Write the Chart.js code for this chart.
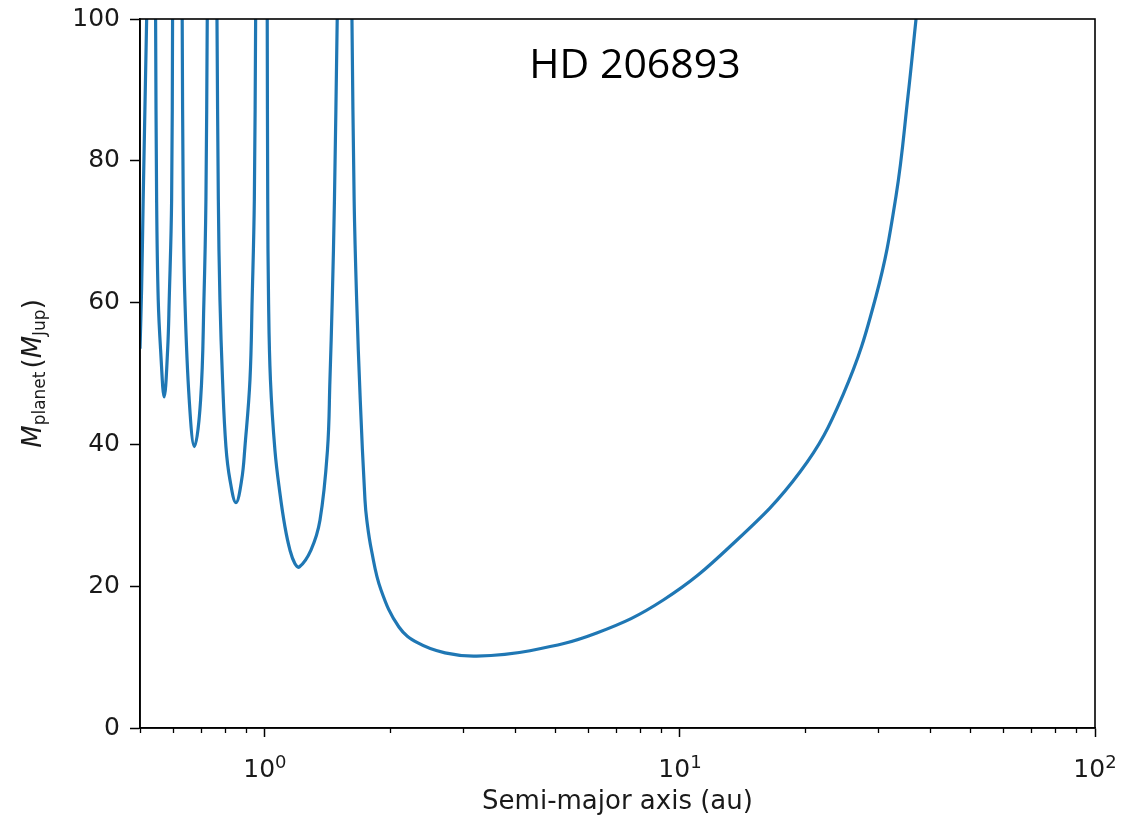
<!DOCTYPE html>
<html>
<head>
<meta charset="utf-8">
<script src="https://cdn.jsdelivr.net/npm/chart.js@4.4.1/dist/chart.umd.min.js"></script>
<style>
  html, body { margin: 0; padding: 0; background: #fff; }
  canvas { display: block; }
</style>
</head>
<body>
<canvas id="chart" width="1142" height="820"></canvas>
<script>
// semi-major axis (au) and the mass limit (M_Jup),
// null marks the resonance spikes where the curve leaves the top of the frame
const semiMajorAxis = [
  0.500, 0.5045, 0.5089, 0.5188,
  0.532,
  0.5452, 0.5483, 0.5532, 0.5606, 0.5718, 0.5828, 0.5880, 0.5959, 0.5990,
  0.615,
  0.6319, 0.6355, 0.6415, 0.6570, 0.6762, 0.6999, 0.7129, 0.7208, 0.7261,
  0.746,
  0.7664, 0.7722, 0.7791, 0.7904, 0.8054, 0.8236, 0.8514, 0.8789, 0.8951, 0.9203, 0.9315, 0.9429, 0.9497,
  0.981,
  1.0128, 1.0156, 1.0202, 1.0310, 1.0570, 1.0867, 1.1173, 1.1489, 1.1805, 1.2097,
  1.2909, 1.3570, 1.4147, 1.4343, 1.4528, 1.4706, 1.4933,
  1.55,
  1.6205, 1.6403, 1.6634, 1.6968, 1.7418, 1.7600, 1.8055, 1.9032, 2.1030, 2.3370, 2.7157, 3.2362,
  4.3512, 6.3012, 9.1170, 13.199, 19.46, 24.71, 29.67, 33.15, 35.43, 37.05
];
const planetMass = [
  53.5, 62, 74.5, 100,
  null,
  100, 74.5, 60.4, 53.3, 46.7, 53.3, 60.4, 74.5, 100,
  null,
  100, 74.5, 60.4, 46.3, 39.7, 46.3, 60.4, 74.5, 100,
  null,
  100, 74.5, 60.4, 49.1, 39.7, 35.0, 31.8, 35.0, 39.7, 49.1, 60.4, 74.5, 100,
  null,
  100, 74.5, 60.4, 49.1, 39.2, 33.1, 28.4, 25.1, 23.2, 22.7,
  25.1, 29.3, 39.2, 49.1, 60.4, 74.5, 100,
  null,
  100, 74.5, 60.4, 46.3, 32.2, 29.3, 25.1, 19.5, 14.25, 12.0, 10.6, 10.15,
  10.9, 13.4, 18.05, 25.6, 36.1, 47.0, 60.9, 75.0, 89.1, 100
];

const xMajorTicks = [1, 10, 100];
const xMajorBase = '10';
const xMajorExponents = ['0', '1', '2'];
const xMinorTicks = [0.5, 0.6, 0.7, 0.8, 0.9, 2, 3, 4, 5, 6, 7, 8, 9, 20, 30, 40, 50, 60, 70, 80, 90];
const yTicks = [0, 20, 40, 60, 80, 100];
const starName = 'HD 206893';

const points = semiMajorAxis.map((a, i) => ({ x: a, y: planetMass[i] }));

const ink = '#1a1a1a';
const tickFont = { family: '"DejaVu Sans"', size: 25 };

// frame, minor ticks, power-of-ten labels, y label with subscripts, star name
const extras = {
  id: 'extras',
  afterDraw(chart) {
    const { ctx, chartArea: area, scales } = chart;
    ctx.save();
    ctx.strokeStyle = '#000';
    ctx.lineWidth = 1.6;
    ctx.strokeRect(area.left, area.top, area.right - area.left, area.bottom - area.top);

    ctx.lineWidth = 1.3;
    ctx.beginPath();
    xMinorTicks.forEach(v => {
      const px = Math.round(scales.x.getPixelForValue(v)) + 0.5;
      ctx.moveTo(px, area.bottom);
      ctx.lineTo(px, area.bottom + 5);
    });
    ctx.stroke();

    // 10^n tick labels
    ctx.fillStyle = ink;
    ctx.textBaseline = 'alphabetic';
    ctx.textAlign = 'left';
    xMajorTicks.forEach((v, i) => {
      ctx.font = '25px "DejaVu Sans"';
      const wb = ctx.measureText(xMajorBase).width;
      ctx.font = '18px "DejaVu Sans"';
      const we = ctx.measureText(xMajorExponents[i]).width;
      const x0 = scales.x.getPixelForValue(v) - (wb + we) / 2;
      const base = area.bottom + 49;
      ctx.font = '25px "DejaVu Sans"';
      ctx.fillText(xMajorBase, x0, base);
      ctx.font = '18px "DejaVu Sans"';
      ctx.fillText(xMajorExponents[i], x0 + wb, base - 9);
    });
    ctx.restore();

    // y axis title: M_planet (M_Jup)
    ctx.save();
    const parts = [
      { t: 'M', font: 'italic 26px "DejaVu Sans"', dy: 0 },
      { t: 'planet', font: '17px "DejaVu Sans"', dy: 4 },
      { t: '(', font: '26px "DejaVu Sans"', dy: 0, gap: 3 },
      { t: 'M', font: 'italic 26px "DejaVu Sans"', dy: 0 },
      { t: 'Jup', font: '17px "DejaVu Sans"', dy: 4 },
      { t: ')', font: '26px "DejaVu Sans"', dy: 0 }
    ];
    let total = 0;
    parts.forEach(p => { ctx.font = p.font; p.w = ctx.measureText(p.t).width; total += p.w + (p.gap || 0); });
    ctx.translate(41, (area.top + area.bottom) / 2);
    ctx.rotate(-Math.PI / 2);
    ctx.fillStyle = ink;
    ctx.textBaseline = 'alphabetic';
    ctx.textAlign = 'left';
    let cx = -total / 2;
    parts.forEach(p => {
      cx += p.gap || 0;
      ctx.font = p.font;
      ctx.fillText(p.t, cx, p.dy);
      cx += p.w;
    });
    ctx.restore();

    ctx.save();
    ctx.fillStyle = '#000';
    ctx.font = '41px "Open Sans"';
    ctx.textAlign = 'center';
    ctx.textBaseline = 'alphabetic';
    ctx.fillText(starName, scales.x.getPixelForValue(7.79), scales.y.getPixelForValue(91.7));
    ctx.restore();
  }
};

new Chart(document.getElementById('chart'), {
  type: 'line',
  data: {
    datasets: [{
      data: points,
      borderColor: '#1f77b4',
      borderWidth: 3.2,
      pointRadius: 0,
      fill: false,
      spanGaps: false,
      tension: 0.4
    }]
  },
  options: {
    responsive: false,
    animation: false,
    layout: { padding: { left: 0, top: 19, right: 47, bottom: 0 } },
    plugins: { legend: { display: false }, tooltip: { enabled: false } },
    scales: {
      x: {
        type: 'logarithmic',
        min: 0.5,
        max: 100,
        afterBuildTicks: scale => { scale.ticks = xMajorTicks.map(v => ({ value: v })); },
        afterFit: scale => { scale.height = 92; },
        border: { color: '#000', width: 1.6 },
        grid: { drawOnChartArea: false, tickLength: 9, tickColor: '#000', tickWidth: 1.5 },
        ticks: { display: false },
        title: {
          display: true,
          text: 'Semi-major axis (au)',
          color: ink,
          font: { family: '"DejaVu Sans"', size: 26 },
          padding: { top: 0, bottom: 2 }
        }
      },
      y: {
        min: 0,
        max: 100,
        afterBuildTicks: scale => { scale.ticks = yTicks.map(v => ({ value: v })); },
        afterFit: scale => {
          scale.width = 140;
          scale.paddingTop = 0;
          scale.paddingBottom = 0;
        },
        border: { color: '#000', width: 1.6 },
        grid: { drawOnChartArea: false, tickLength: 10, tickColor: '#000', tickWidth: 1.5 },
        ticks: { padding: 10, color: ink, font: tickFont }
      }
    }
  },
  plugins: [extras]
});
</script>
</body>
</html>
